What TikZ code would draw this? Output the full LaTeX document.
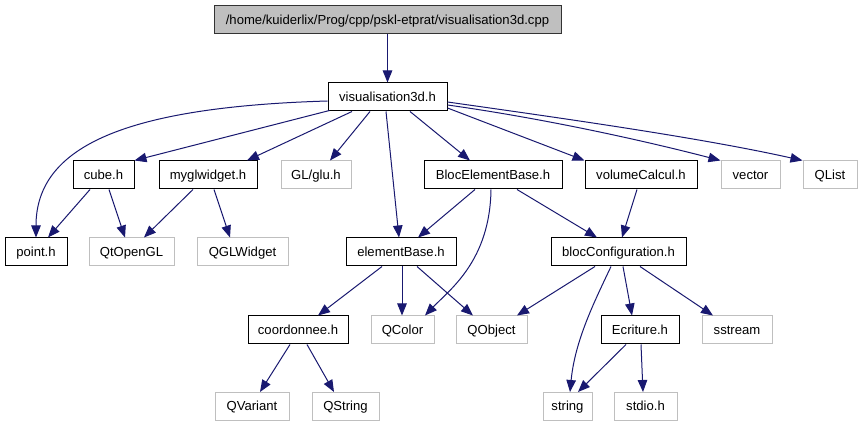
\documentclass[tikz,border=0pt]{standalone}
\usepackage{fontspec}
\setmainfont{Liberation Sans}
\usetikzlibrary{arrows.meta}
\definecolor{edgecol}{RGB}{25,25,112}
\definecolor{extgray}{RGB}{191,191,191}
\begin{document}
\begin{tikzpicture}[x=1pt,y=-1pt,
  box/.style={rectangle, inner sep=0pt, minimum height=28pt, text height=10pt, text depth=1pt,
    font=\fontsize{13.1}{15}\selectfont, anchor=center},
  doc/.style={box, draw=black, line width=1pt},
  ext/.style={box, draw=extgray, line width=1pt},
  rootbox/.style={box, draw=black!80, fill=extgray, line width=1pt},
  dep/.style={draw=edgecol, line width=1pt, -{Triangle[length=12pt,width=9.5pt]}}]
\fill[white] (0,0) rectangle (863,427);
\useasboundingbox (0,0) rectangle (863,427);
% row 0/1
\node[rootbox, minimum width=347pt] (root) at (387.5,20) {/home/kuiderlix/Prog/cpp/pskl-etprat/visualisation3d.cpp};
\node[doc, minimum width=119pt] (vis) at (387.5,97) {visualisation3d.h};
% row 2
\node[doc, minimum width=61pt] (cube) at (103.5,175) {cube.h};
\node[doc, minimum width=98pt] (mygl) at (208,175) {myglwidget.h};
\node[ext, minimum width=70pt] (glu) at (316,175) {GL/glu.h};
\node[doc, minimum width=138pt] (bloc) at (493,175) {BlocElementBase.h};
\node[doc, minimum width=112pt] (vol) at (641,175) {volumeCalcul.h};
\node[ext, minimum width=59pt] (vector) at (750.5,175) {vector};
\node[ext, minimum width=54pt] (qlist) at (830,175) {QList};
% row 3
\node[doc, minimum width=62pt] (point) at (36,252) {point.h};
\node[ext, minimum width=85pt] (qtgl) at (131.5,252) {QtOpenGL};
\node[ext, minimum width=91pt] (qgl) at (242.5,252) {QGLWidget};
\node[doc, minimum width=110pt] (elem) at (401,252) {elementBase.h};
\node[doc, minimum width=135pt] (bconf) at (618.5,252) {blocConfiguration.h};
% row 4
\node[doc, minimum width=100pt] (coord) at (298,330) {coordonnee.h};
\node[ext, minimum width=63pt] (qcolor) at (402.5,330) {QColor};
\node[ext, minimum width=71pt] (qobject) at (491.5,330) {QObject};
\node[doc, minimum width=78pt] (ecrit) at (640,330) {Ecriture.h};
\node[ext, minimum width=70pt] (sstream) at (737,330) {sstream};
% row 5
\node[ext, minimum width=74pt] (qvariant) at (252,406.5) {QVariant};
\node[ext, minimum width=67pt] (qstring) at (345.5,406.5) {QString};
\node[ext, minimum width=49pt] (string) at (567.5,406.5) {string};
\node[ext, minimum width=63pt] (stdio) at (645.5,406.5) {stdio.h};
% edges
\draw[dep] (root.south) -- (vis.north);
\draw[dep] ([yshift=-4pt]vis.west) .. controls +(-200,6) and +(0,-92) .. (point.north);
\draw[dep] ([xshift=2pt,yshift=1pt]vis.south west) -- (cube.north east);
\draw[dep] ([xshift=-35.5pt]vis.south) -- ([xshift=39pt]mygl.north);
\draw[dep] ([xshift=-17.5pt]vis.south) -- ([xshift=14pt]glu.north);
\draw[dep] ([xshift=-1.5pt]vis.south) -- ([xshift=-2pt]elem.north);
\draw[dep] ([xshift=22.5pt]vis.south) -- ([xshift=-23pt]bloc.north);
\draw[dep] ([yshift=-11pt]vis.east) -- (vol.north west);
\draw[dep] ([yshift=-8pt]vis.east) .. controls +(93,13) and +(-81,-21) .. (vector.north west);
\draw[dep] ([yshift=-5pt]vis.east) .. controls +(113,16) and +(-103,-23) .. (qlist.north west);
\draw[dep] ([xshift=-13.5pt]cube.south) -- ([xshift=12pt]point.north);
\draw[dep] ([xshift=5.5pt]cube.south) -- ([xshift=-6.5pt]qtgl.north);
\draw[dep] ([xshift=-15pt]mygl.south) -- ([xshift=12.5pt]qtgl.north);
\draw[dep] ([xshift=6pt]mygl.south) -- ([xshift=-12.5pt]qgl.north);
\draw[dep] ([xshift=-18pt]bloc.south) -- ([xshift=17pt]elem.north);
\draw[dep] ([xshift=-2pt]bloc.south) .. controls +(-1,71) and +(25,-26) .. ([xshift=22.5pt]qcolor.north);
\draw[dep] ([xshift=24pt]bloc.south) -- ([xshift=-21.5pt]bconf.north);
\draw[dep] ([xshift=-4pt]vol.south) -- ([xshift=3.5pt]bconf.north);
\draw[dep] ([xshift=-19pt]elem.south) -- ([xshift=20pt]coord.north);
\draw[dep] ([xshift=1pt]elem.south) -- ([xshift=-0.5pt]qcolor.north);
\draw[dep] ([xshift=16pt]elem.south) -- ([xshift=-18.5pt]qobject.north);
\draw[dep] ([xshift=-23.5pt]bconf.south) -- ([xshift=25.5pt]qobject.north);
\draw[dep] ([xshift=-7.5pt]bconf.south) .. controls +(-16,34) and +(5,-52) .. ([xshift=2.5pt]string.north);
\draw[dep] ([xshift=4.5pt]bconf.south) -- ([xshift=-8pt]ecrit.north);
\draw[dep] ([xshift=21.5pt]bconf.south) -- ([xshift=-24pt]sstream.north);
\draw[dep] ([xshift=-14pt]ecrit.south) -- ([xshift=10.5pt]string.north);
\draw[dep] ([xshift=1pt]ecrit.south) -- ([xshift=-2.5pt]stdio.north);
\draw[dep] ([xshift=-8pt]coord.south) -- ([xshift=8pt]qvariant.north);
\draw[dep] ([xshift=9pt]coord.south) -- ([xshift=-11.5pt]qstring.north);
\end{tikzpicture}
\end{document}
